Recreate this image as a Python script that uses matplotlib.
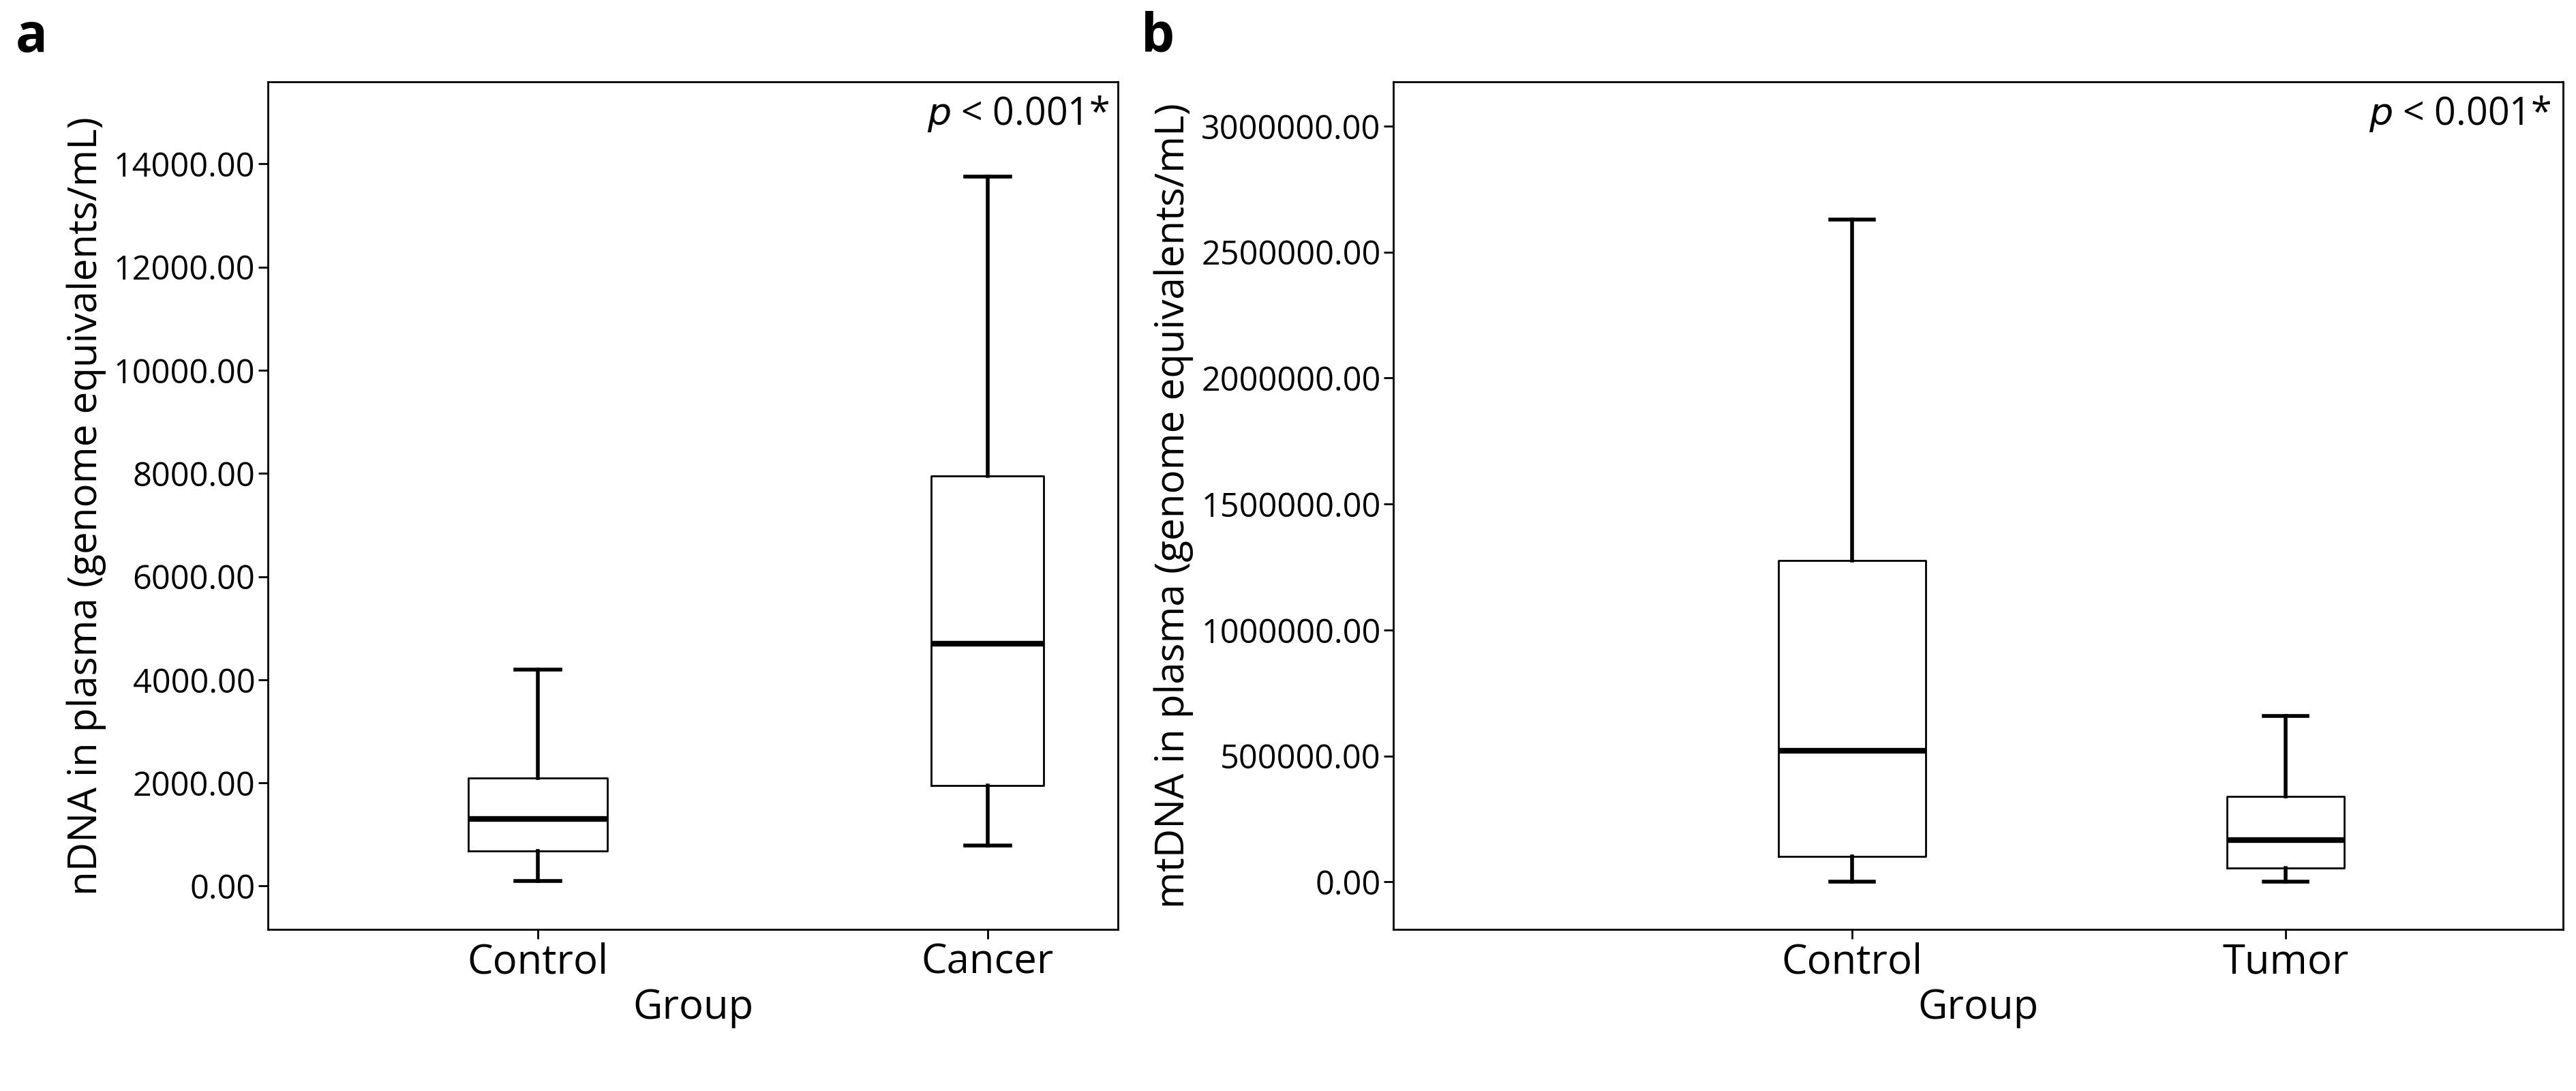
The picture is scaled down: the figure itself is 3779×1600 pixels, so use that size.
import matplotlib
matplotlib.use("Agg")
import matplotlib.pyplot as plt

plt.rcParams['font.family'] = ['Open Sans', 'DejaVu Sans']

cats_a = ["Control", "Cancer"]
stats_a = [  # whislo, q1, med, q3, whishi
    [100, 680, 1300, 2100, 4200],
    [780, 1950, 4700, 7950, 13750],
]
widths_a = [0.31, 0.25]
cats_b = ["Control", "Tumor"]
stats_b = [
    [0, 100000, 520000, 1275000, 2630000],
    [0, 55000, 165000, 340000, 660000],
]
widths_b = [0.34, 0.27]

fig = plt.figure(figsize=(37.79, 16), dpi=100)

def panel(rect, cats, stats, widths, yticks, ylim, xlim, ylabel, letter):
    ax = fig.add_axes(rect)
    bx = [dict(whislo=s[0], q1=s[1], med=s[2], q3=s[3], whishi=s[4], label=c)
          for c, s in zip(cats, stats)]
    ax.bxp(bx, positions=[1, 2], widths=widths, showfliers=False,
           boxprops=dict(color='black', linewidth=2),
           medianprops=dict(color='black', linewidth=6),
           whiskerprops=dict(color='black', linewidth=4),
           capprops=dict(color='black', linewidth=4), capwidths=0.1)
    ax.set_xlim(*xlim)
    ax.set_ylim(*ylim)
    ax.set_yticks(yticks)
    ax.set_yticklabels([f"{v:.2f}" for v in yticks])
    ax.tick_params(axis='y', labelsize=35, width=2, length=10)
    ax.tick_params(axis='x', labelsize=43, width=2, length=10)
    for s in ax.spines.values():
        s.set_linewidth(2)
    ax.set_ylabel(ylabel, fontsize=42, labelpad=8)
    ax.set_xlabel("Group", fontsize=43, labelpad=4)
    ax.text(0.99, 0.985, r"$\it{p}$ < 0.001*", transform=ax.transAxes,
            ha='right', va='top', fontsize=40)
    fig.text(rect[0] - 0.098, 0.99, letter, fontsize=56, fontweight='bold',
             va='top', ha='left')
    return ax

panel([0.104, 0.148, 0.33, 0.777], cats_a, stats_a, widths_a,
      list(range(0, 14001, 2000)), (-843, 15590), (0.4, 2.29),
      "nDNA in plasma (genome equivalents/mL)", "a")
panel([0.541, 0.148, 0.454, 0.777], cats_b, stats_b, widths_b,
      list(range(0, 3000001, 500000)), (-189000, 3176000), (-0.057, 2.64),
      "mtDNA in plasma (genome equivalents/mL)", "b")

fig.savefig("out.png", dpi=100)
